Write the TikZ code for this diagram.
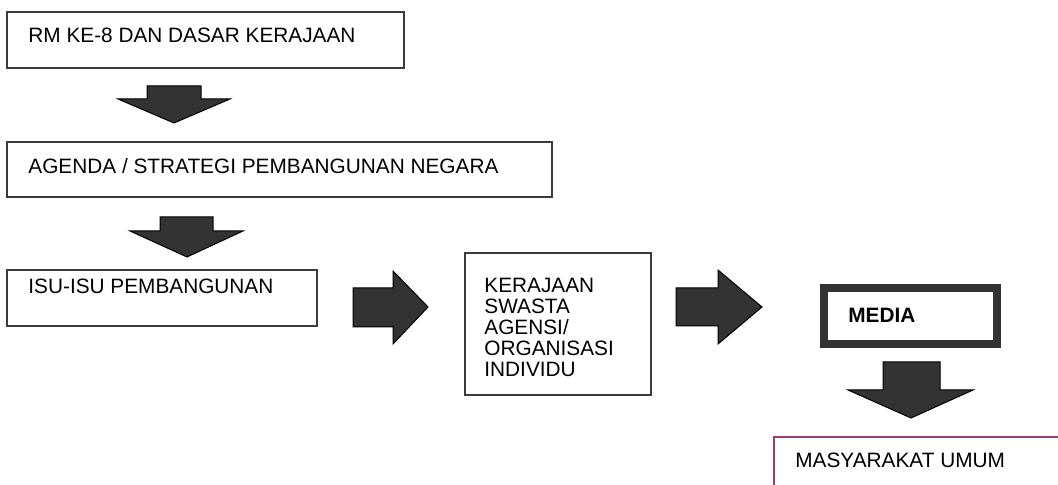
\documentclass[tikz,border=0pt]{standalone}
\usepackage{fontspec}
\setmainfont{Liberation Sans}
\definecolor{garis}{RGB}{60,60,60}
\definecolor{isi}{RGB}{51,51,51}
\definecolor{ungu}{RGB}{160,60,110}
\tikzset{
	kotak/.style={draw=garis, line width=1pt},
	panah/.style={draw=black, fill=isi, line width=0.5pt, line join=miter},
	teks/.style={anchor=west, inner sep=0pt, font=\fontsize{10.4}{10.5}\selectfont}
}
\begin{document}
\begin{tikzpicture}[x=0.5pt,y=-0.5pt]
	\useasboundingbox (0,0) rectangle (1058,485);
	\clip (0,0) rectangle (1058,485);

	% RM ke-8
	\draw[kotak] (7,12) rectangle (404,68);
	\node[teks] (rm) at (28,35.5) {RM KE-8 DAN DASAR KERAJAAN};
	\draw[panah] (147,86) -- (201,86) -- (201,99) -- (230,99) -- (174,123) -- (118,99) -- (147,99) -- cycle;

	% agenda
	\draw[kotak] (7,142) rectangle (552,197);
	\node[teks] (agenda) at (28,166) {AGENDA / STRATEGI PEMBANGUNAN NEGARA};
	\draw[panah] (160,217) -- (213,217) -- (213,231) -- (243,231) -- (187,257) -- (130,231) -- (160,231) -- cycle;

	% isu
	\draw[kotak] (7,270) rectangle (317,326);
	\node[teks] (isu) at (28,286) {ISU-ISU PEMBANGUNAN};
	\draw[panah] (353,288) -- (393,288) -- (393,271) -- (428,307) -- (393,344) -- (393,327) -- (353,327) -- cycle;

	% pelaku
	\draw[kotak] (465,253) rectangle (651,395);
	\node[teks, anchor=north west, align=left] (pelaku) at (484,278) {KERAJAAN\\SWASTA\\AGENSI/\\ORGANISASI\\INDIVIDU};
	\draw[panah] (676,288) -- (718,288) -- (718,270) -- (762,307) -- (718,344) -- (718,326) -- (676,326) -- cycle;

	% media
	\draw[draw=isi, line width=4pt] (824,288.5) rectangle (997,344.5);
	\node[teks, font=\fontsize{10.4}{10.5}\selectfont\bfseries] (media) at (848,315.5) {MEDIA};
	\draw[panah] (883,362) -- (940,362) -- (940,390) -- (973,390) -- (911,418) -- (848,390) -- (883,390) -- cycle;

	% masyarakat
	\draw[draw=ungu, line width=1pt] (774,500) -- (774,437) -- (1070,437);
	\node[teks] (umum) at (795,460) {MASYARAKAT UMUM};
\end{tikzpicture}
\end{document}
